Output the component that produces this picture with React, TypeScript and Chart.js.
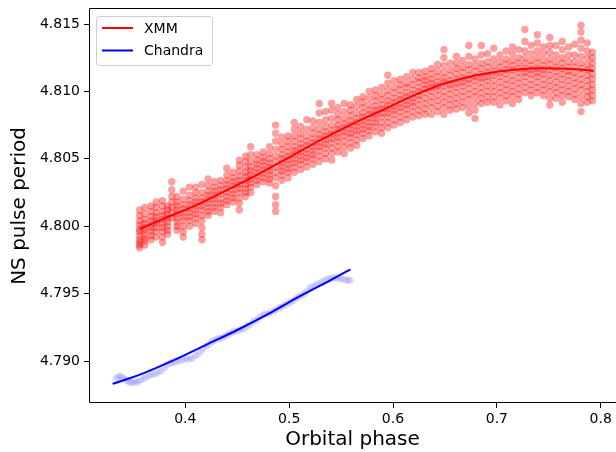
import React, { useEffect, useRef } from "react";
import { Chart, registerables } from "chart.js";

Chart.register(...registerables);

// ---- axis ticks / labels ----
const xTickValues = [0.4, 0.5, 0.6, 0.7, 0.8];
const xTickLabels = ["0.4", "0.5", "0.6", "0.7", "0.8"];
const yTickValues = [4.79, 4.795, 4.8, 4.805, 4.81, 4.815];
const yTickLabels = ["4.790", "4.795", "4.800", "4.805", "4.810", "4.815"];
const xAxisTitle = "Orbital phase";
const yAxisTitle = "NS pulse period";
const seriesNames = ["XMM", "Chandra"];

// ---- XMM measurements (phase columns, periods in each column) ----
const xmmPhase = [
  0.356, 0.361, 0.367, 0.372, 0.378, 0.383, 0.387, 0.392, 0.398, 0.404,
  0.41, 0.416, 0.422, 0.428, 0.434, 0.44, 0.446, 0.452, 0.458, 0.463,
  0.469, 0.475, 0.481, 0.487, 0.493, 0.499, 0.505, 0.511, 0.517, 0.523,
  0.529, 0.535, 0.541, 0.547, 0.553, 0.559, 0.565, 0.571, 0.577, 0.583,
  0.589, 0.595, 0.601, 0.607, 0.613, 0.619, 0.625, 0.631, 0.637, 0.643,
  0.649, 0.655, 0.661, 0.667, 0.673, 0.679, 0.685, 0.691, 0.697, 0.703,
  0.709, 0.715, 0.721, 0.727, 0.733, 0.739, 0.745, 0.751, 0.757, 0.763,
  0.769, 0.775, 0.781, 0.787, 0.792,
];
const xmmPeriods = [
  [4.7984, 4.7986, 4.7988, 4.799, 4.7993, 4.7996, 4.7998, 4.8001, 4.8004, 4.8008, 4.8012],
  [4.7986, 4.7989, 4.7991, 4.7994, 4.7997, 4.7999, 4.8002, 4.8005, 4.8009, 4.8014],
  [4.799, 4.7993, 4.7996, 4.7999, 4.8001, 4.8004, 4.8007, 4.8011, 4.8015],
  [4.7992, 4.7996, 4.7999, 4.8002, 4.8004, 4.8007, 4.801, 4.8014, 4.8018],
  [4.7988, 4.7992, 4.7996, 4.7999, 4.8002, 4.8005, 4.8008, 4.8011, 4.8015, 4.8019],
  [4.7994, 4.7997, 4.8, 4.8003, 4.8006, 4.8009, 4.8012, 4.8015],
  [4.8006, 4.801, 4.8014, 4.8018, 4.8022, 4.8027, 4.8033],
  [4.7997, 4.8, 4.8003, 4.8006, 4.8009, 4.8012, 4.8015, 4.8018, 4.8022],
  [4.7992, 4.7996, 4.8, 4.8004, 4.8007, 4.801, 4.8013, 4.8016, 4.802, 4.8026],
  [4.8, 4.8004, 4.8007, 4.801, 4.8013, 4.8016, 4.8019, 4.8023, 4.8029],
  [4.8002, 4.8006, 4.8009, 4.8012, 4.8015, 4.8018, 4.8021, 4.8025, 4.8029],
  [4.799, 4.7994, 4.7999, 4.8004, 4.8008, 4.8012, 4.8015, 4.8018, 4.8021, 4.8025, 4.8031],
  [4.8008, 4.8011, 4.8014, 4.8017, 4.802, 4.8023, 4.8026, 4.803, 4.8035],
  [4.8011, 4.8014, 4.8017, 4.802, 4.8023, 4.8026, 4.8029, 4.8033],
  [4.801, 4.8014, 4.8017, 4.802, 4.8024, 4.8027, 4.803, 4.8034],
  [4.8016, 4.8019, 4.8022, 4.8025, 4.8028, 4.8031, 4.8034, 4.8038, 4.8043],
  [4.8018, 4.8021, 4.8024, 4.8027, 4.803, 4.8033, 4.8036, 4.804],
  [4.8012, 4.8017, 4.8021, 4.8025, 4.8028, 4.8031, 4.8034, 4.8037, 4.8041, 4.8045, 4.8049],
  [4.8022, 4.8025, 4.8028, 4.8031, 4.8034, 4.8037, 4.804, 4.8044, 4.8048, 4.8052],
  [4.8025, 4.8029, 4.8032, 4.8035, 4.8038, 4.8041, 4.8044, 4.8048, 4.8053, 4.8059],
  [4.8031, 4.8034, 4.8037, 4.804, 4.8043, 4.8046, 4.8049, 4.8053],
  [4.8033, 4.8036, 4.8039, 4.8042, 4.8045, 4.8048, 4.8051, 4.8055],
  [4.8032, 4.8035, 4.8038, 4.8041, 4.8044, 4.8047, 4.805, 4.8054, 4.8059],
  [4.8011, 4.8016, 4.8022, 4.803, 4.8036, 4.804, 4.8044, 4.8048, 4.8052, 4.8057, 4.8063, 4.8069, 4.8075],
  [4.8034, 4.8038, 4.8041, 4.8044, 4.8047, 4.805, 4.8053, 4.8057, 4.8061, 4.8066],
  [4.8036, 4.804, 4.8043, 4.8046, 4.8049, 4.8052, 4.8055, 4.8059, 4.8063, 4.8067],
  [4.804, 4.8044, 4.8047, 4.805, 4.8053, 4.8056, 4.8059, 4.8063, 4.8067, 4.8072, 4.8077],
  [4.8042, 4.8046, 4.8049, 4.8052, 4.8055, 4.8058, 4.8061, 4.8065, 4.8069, 4.8074],
  [4.8044, 4.8048, 4.8051, 4.8054, 4.8057, 4.806, 4.8063, 4.8067, 4.8072, 4.8079],
  [4.8046, 4.805, 4.8053, 4.8056, 4.8059, 4.8062, 4.8065, 4.8069, 4.8073, 4.8078],
  [4.8048, 4.8052, 4.8056, 4.8059, 4.8062, 4.8065, 4.8068, 4.8072, 4.8077, 4.8084, 4.8091],
  [4.805, 4.8054, 4.8058, 4.8061, 4.8064, 4.8067, 4.807, 4.8074, 4.8079, 4.8085],
  [4.8049, 4.8054, 4.8058, 4.8062, 4.8065, 4.8068, 4.8071, 4.8075, 4.808, 4.8086, 4.8091],
  [4.8055, 4.8059, 4.8063, 4.8066, 4.8069, 4.8072, 4.8075, 4.8079, 4.8083, 4.8088],
  [4.8054, 4.8059, 4.8063, 4.8067, 4.807, 4.8073, 4.8076, 4.808, 4.8085, 4.8091],
  [4.8058, 4.8062, 4.8066, 4.8069, 4.8072, 4.8075, 4.8078, 4.8082, 4.8086, 4.809],
  [4.806, 4.8064, 4.8068, 4.8071, 4.8074, 4.8077, 4.808, 4.8084, 4.8089, 4.8094],
  [4.8065, 4.8069, 4.8072, 4.8075, 4.8078, 4.8081, 4.8084, 4.8088, 4.8092, 4.8096],
  [4.8067, 4.8071, 4.8074, 4.8077, 4.808, 4.8083, 4.8086, 4.809, 4.8095, 4.81],
  [4.807, 4.8074, 4.8077, 4.808, 4.8083, 4.8086, 4.8089, 4.8093, 4.8097, 4.8101],
  [4.8069, 4.8073, 4.8077, 4.8081, 4.8084, 4.8087, 4.809, 4.8094, 4.8098, 4.8103],
  [4.8073, 4.8077, 4.8081, 4.8084, 4.8087, 4.809, 4.8093, 4.8097, 4.8101, 4.8106, 4.8112],
  [4.8075, 4.8079, 4.8083, 4.8086, 4.8089, 4.8092, 4.8095, 4.8099, 4.8103, 4.8108],
  [4.8077, 4.8081, 4.8085, 4.8088, 4.8091, 4.8094, 4.8097, 4.8101, 4.8105, 4.8109],
  [4.8079, 4.8083, 4.8087, 4.809, 4.8093, 4.8096, 4.8099, 4.8103, 4.8106, 4.8111],
  [4.8081, 4.8085, 4.8089, 4.8092, 4.8095, 4.8098, 4.8101, 4.8105, 4.8109, 4.8114],
  [4.8082, 4.8086, 4.809, 4.8094, 4.8097, 4.81, 4.8103, 4.8107, 4.811, 4.8114],
  [4.8083, 4.8087, 4.8091, 4.8095, 4.8099, 4.8102, 4.8105, 4.8108, 4.8111, 4.8115],
  [4.8083, 4.8088, 4.8092, 4.8096, 4.81, 4.8103, 4.8106, 4.8109, 4.8113, 4.8117],
  [4.8085, 4.8089, 4.8093, 4.8097, 4.8101, 4.8104, 4.8107, 4.8111, 4.8115, 4.812],
  [4.8083, 4.8088, 4.8092, 4.8096, 4.81, 4.8104, 4.8107, 4.811, 4.8114, 4.8119, 4.8125, 4.8131],
  [4.8086, 4.809, 4.8094, 4.8098, 4.8102, 4.8105, 4.8108, 4.8112, 4.8116, 4.8121],
  [4.8087, 4.8091, 4.8095, 4.8099, 4.8103, 4.8106, 4.8109, 4.8113, 4.8117, 4.8121, 4.8126],
  [4.8088, 4.8092, 4.8096, 4.81, 4.8104, 4.8107, 4.811, 4.8114, 4.8118, 4.8123],
  [4.8084, 4.8089, 4.8094, 4.8098, 4.8102, 4.8106, 4.8109, 4.8112, 4.8116, 4.812, 4.8126, 4.8134],
  [4.808, 4.8086, 4.8091, 4.8096, 4.81, 4.8104, 4.8108, 4.8111, 4.8115, 4.8119, 4.8124],
  [4.8091, 4.8095, 4.8099, 4.8103, 4.8107, 4.811, 4.8113, 4.8117, 4.8121, 4.8127, 4.8134],
  [4.8092, 4.8096, 4.81, 4.8104, 4.8108, 4.8111, 4.8114, 4.8118, 4.8122, 4.8128],
  [4.8092, 4.8096, 4.81, 4.8104, 4.8108, 4.8112, 4.8115, 4.8119, 4.8124, 4.8132],
  [4.809, 4.8095, 4.8099, 4.8103, 4.8107, 4.8111, 4.8114, 4.8118, 4.8122, 4.8127],
  [4.8093, 4.8097, 4.8101, 4.8105, 4.8109, 4.8113, 4.8116, 4.812, 4.8124, 4.813],
  [4.8091, 4.8096, 4.81, 4.8104, 4.8108, 4.8112, 4.8116, 4.8119, 4.8123, 4.8128, 4.8133],
  [4.8094, 4.8098, 4.8102, 4.8106, 4.811, 4.8114, 4.8117, 4.8121, 4.8125, 4.8131],
  [4.8099, 4.8103, 4.8107, 4.8111, 4.8114, 4.8117, 4.8121, 4.8125, 4.813, 4.8137, 4.8146],
  [4.8097, 4.8101, 4.8105, 4.8109, 4.8113, 4.8116, 4.8119, 4.8123, 4.8128, 4.8134],
  [4.8099, 4.8103, 4.8107, 4.8111, 4.8114, 4.8117, 4.8121, 4.8125, 4.813, 4.8136, 4.8142],
  [4.8097, 4.8101, 4.8105, 4.8109, 4.8113, 4.8116, 4.8119, 4.8123, 4.8128, 4.8133],
  [4.809, 4.8095, 4.81, 4.8104, 4.8108, 4.8112, 4.8116, 4.812, 4.8124, 4.8129, 4.8134, 4.814],
  [4.8095, 4.8099, 4.8103, 4.8107, 4.8111, 4.8115, 4.8118, 4.8122, 4.8127, 4.8134],
  [4.8092, 4.8097, 4.8101, 4.8105, 4.8109, 4.8113, 4.8117, 4.8121, 4.8125, 4.8131, 4.8137],
  [4.8096, 4.81, 4.8104, 4.8108, 4.8112, 4.8115, 4.8118, 4.8122, 4.8127, 4.8133],
  [4.8094, 4.8098, 4.8102, 4.8106, 4.811, 4.8114, 4.8118, 4.8122, 4.8127, 4.8135],
  [4.8085, 4.8091, 4.8096, 4.8101, 4.8105, 4.8109, 4.8113, 4.8117, 4.8121, 4.8126, 4.8132, 4.8138, 4.8144, 4.8149],
  [4.8092, 4.8096, 4.81, 4.8104, 4.8108, 4.8112, 4.8116, 4.812, 4.8125, 4.813, 4.8136],
  [4.8093, 4.8097, 4.8101, 4.8105, 4.8109, 4.8113, 4.8117, 4.8121, 4.8125, 4.8129],
];

// ---- Chandra measurements ----
const chandraPhase = [
  0.333, 0.335, 0.337, 0.339, 0.341, 0.343, 0.345, 0.347, 0.349, 0.351,
  0.353, 0.355, 0.357, 0.36, 0.362, 0.365, 0.367, 0.37, 0.372, 0.375,
  0.377, 0.38, 0.382, 0.385, 0.387, 0.39, 0.392, 0.395, 0.397, 0.4,
  0.402, 0.405, 0.407, 0.41, 0.412, 0.415, 0.417, 0.42, 0.422, 0.425,
  0.427, 0.43, 0.432, 0.435, 0.437, 0.44, 0.442, 0.445, 0.447, 0.45,
  0.452, 0.455, 0.457, 0.46, 0.462, 0.465, 0.467, 0.47, 0.472, 0.475,
  0.477, 0.48, 0.482, 0.485, 0.487, 0.49, 0.492, 0.495, 0.497, 0.5,
  0.502, 0.505, 0.507, 0.51, 0.512, 0.515, 0.517, 0.52, 0.522, 0.525,
  0.527, 0.53, 0.532, 0.535, 0.537, 0.54, 0.542, 0.545, 0.547, 0.55,
  0.552, 0.555, 0.557, 0.559,
];
const chandraPeriod = [
  4.7887, 4.7888, 4.7889, 4.7888, 4.7887, 4.7886, 4.7885, 4.7884, 4.7884, 4.7885,
  4.7884, 4.7885, 4.7886, 4.7887, 4.7888, 4.7889, 4.789, 4.789, 4.7891, 4.7892,
  4.7893, 4.7895, 4.7897, 4.7898, 4.7899, 4.7899, 4.79, 4.79, 4.7901, 4.7902,
  4.7901, 4.7902, 4.7902, 4.7904, 4.7905, 4.7907, 4.7909, 4.7911, 4.7912, 4.7914,
  4.7915, 4.7916, 4.7917, 4.7917, 4.7918, 4.7919, 4.792, 4.7921, 4.7922, 4.7922,
  4.7923, 4.7924, 4.7924, 4.7926, 4.7927, 4.7929, 4.793, 4.7931, 4.7933, 4.7934,
  4.7935, 4.7935, 4.7936, 4.7937, 4.7938, 4.7939, 4.794, 4.7941, 4.7942, 4.7943,
  4.7944, 4.7945, 4.7947, 4.7948, 4.7949, 4.795, 4.7952, 4.7954, 4.7955, 4.7956,
  4.7957, 4.7958, 4.7959, 4.796, 4.7961, 4.7961, 4.7962, 4.7962, 4.7961, 4.7961,
  4.7961, 4.796, 4.796, 4.796,
];

// ---- fitted curves ----
const xmmFitPhase = [0.356, 0.38, 0.41, 0.44, 0.47, 0.5, 0.53, 0.56, 0.59, 0.62, 0.65, 0.68, 0.71, 0.74, 0.77, 0.793];
const xmmFitPeriod = [4.7998, 4.80058, 4.80155, 4.80268, 4.80385, 4.8051, 4.80638, 4.80755, 4.80862, 4.8097, 4.8106, 4.8112, 4.81155, 4.81172, 4.81168, 4.81153];
const chandraFitPhase = [0.33, 0.36, 0.39, 0.42, 0.45, 0.48, 0.51, 0.54, 0.559];
const chandraFitPeriod = [4.7883, 4.7891, 4.7901, 4.7912, 4.7923, 4.7935, 4.7948, 4.796, 4.7968];

const FONT = '"DejaVu Sans", "Liberation Sans", sans-serif';

const framePlugin = {
  id: "mplFrame",
  afterDatasetsDraw(chart: any) {
    const { ctx, chartArea: a } = chart;
    ctx.save();
    ctx.strokeStyle = "#000";
    ctx.lineWidth = 1;
    ctx.beginPath();
    ctx.moveTo(a.left + 0.5, a.bottom - 0.5);
    ctx.lineTo(a.left + 0.5, a.top - 0.5);
    ctx.lineTo(a.right + 0.5, a.top - 0.5);
    ctx.lineTo(a.right + 0.5, a.bottom - 0.5);
    ctx.closePath();
    ctx.stroke();
    ctx.restore();
  },
};

const legendPlugin = {
  id: "mplLegend",
  afterDraw(chart: any) {
    const { ctx, chartArea: a } = chart;
    const items = chart.data.datasets.filter((d: any) => d.showLine);
    const x = a.left + 7.5;
    const y = a.top + 7.5;
    const w = 116;
    const h = 49;
    ctx.save();
    ctx.beginPath();
    ctx.roundRect(x, y, w, h, 3);
    ctx.fillStyle = "rgba(255,255,255,0.8)";
    ctx.fill();
    ctx.strokeStyle = "#cccccc";
    ctx.lineWidth = 1;
    ctx.stroke();
    items.forEach((d: any, i: number) => {
      const ly = a.top + 19 + i * 22.5;
      ctx.beginPath();
      ctx.moveTo(a.left + 13, ly);
      ctx.lineTo(a.left + 44, ly);
      ctx.strokeStyle = d.borderColor;
      ctx.lineWidth = 2;
      ctx.stroke();
      ctx.fillStyle = "#000";
      ctx.font = `14px ${FONT}`;
      ctx.textBaseline = "middle";
      ctx.textAlign = "left";
      ctx.fillText(d.label, a.left + 55, ly + 1);
    });
    ctx.restore();
  },
};

export default function App() {
  const ref = useRef<HTMLCanvasElement | null>(null);

  useEffect(() => {
    if (!ref.current) return;
    const xmmPoints = xmmPhase.flatMap((p, i) => xmmPeriods[i].map((v) => ({ x: p, y: v })));
    const chandraPoints = chandraPhase.map((p, i) => ({ x: p, y: chandraPeriod[i] }));
    const xmmFit = xmmFitPhase.map((p, i) => ({ x: p, y: xmmFitPeriod[i] }));
    const chandraFit = chandraFitPhase.map((p, i) => ({ x: p, y: chandraFitPeriod[i] }));

    const chart = new Chart(ref.current, {
      type: "scatter",
      data: {
        datasets: [
          {
            label: seriesNames[0],
            data: xmmFit,
            showLine: true,
            borderColor: "#ff0000",
            backgroundColor: "#ff0000",
            borderWidth: 2,
            pointRadius: 0,
            cubicInterpolationMode: "monotone",
          },
          {
            label: seriesNames[1],
            data: chandraFit,
            showLine: true,
            borderColor: "#0000ff",
            backgroundColor: "#0000ff",
            borderWidth: 2,
            pointRadius: 0,
            cubicInterpolationMode: "monotone",
          },
          {
            data: xmmPoints,
            pointRadius: 3.7,
            borderWidth: 0,
            backgroundColor: "rgba(255,0,0,0.38)",
            borderColor: "rgba(255,0,0,0)",
          },
          {
            data: chandraPoints,
            pointRadius: 3.6,
            borderWidth: 0,
            backgroundColor: "rgba(0,0,255,0.11)",
            borderColor: "rgba(0,0,255,0)",
          },
        ] as any,
      },
      options: {
        animation: false,
        responsive: false,
        devicePixelRatio: 1,
        layout: { padding: { top: 9, right: 4, left: 0, bottom: 0 } },
        plugins: { legend: { display: false }, tooltip: { enabled: false } },
        scales: {
          x: {
            type: "linear",
            min: 0.30727,
            max: 0.81473,
            afterFit: (s: any) => {
              s.height = 49;
              s.paddingLeft = 0;
              s.paddingRight = 0;
            },
            afterBuildTicks: (s: any) => {
              s.ticks = xTickValues.map((v) => ({ value: v }));
            },
            ticks: {
              callback: (_v: any, i: number) => xTickLabels[i],
              color: "#000",
              font: { family: FONT, size: 14 },
              padding: 3,
              maxRotation: 0,
              autoSkip: false,
            },
            grid: {
              drawOnChartArea: false,
              drawTicks: true,
              tickLength: 5,
              tickColor: "#000",
              lineWidth: 1,
            },
            border: { display: false },
            title: {
              display: true,
              text: xAxisTitle,
              color: "#000",
              font: { family: FONT, size: 20 },
              padding: { top: 0, bottom: 0 },
            },
          },
          y: {
            type: "linear",
            min: 4.786885,
            max: 4.816113,
            afterFit: (s: any) => {
              s.width = 89;
              s.paddingTop = 0;
              s.paddingBottom = 0;
            },
            afterBuildTicks: (s: any) => {
              s.ticks = yTickValues.map((v) => ({ value: v }));
            },
            ticks: {
              callback: (_v: any, i: number) => yTickLabels[i],
              color: "#000",
              font: { family: FONT, size: 14 },
              padding: 4,
              autoSkip: false,
            },
            grid: {
              drawOnChartArea: false,
              drawTicks: true,
              tickLength: 5,
              tickColor: "#000",
              lineWidth: 1,
            },
            border: { display: false },
            title: {
              display: true,
              text: yAxisTitle,
              color: "#000",
              font: { family: FONT, size: 20 },
              padding: { top: 8, bottom: 0 },
            },
          },
        },
      },
      plugins: [framePlugin, legendPlugin],
    });
    return () => chart.destroy();
  }, []);

  return (
    <div
      style={{
        position: "absolute",
        left: 0,
        top: 0,
        width: 616,
        height: 452,
        overflow: "hidden",
        background: "#fff",
      }}
    >
      <canvas ref={ref} width={620} height={452} style={{ width: 620, height: 452, display: "block" }} />
    </div>
  );
}
